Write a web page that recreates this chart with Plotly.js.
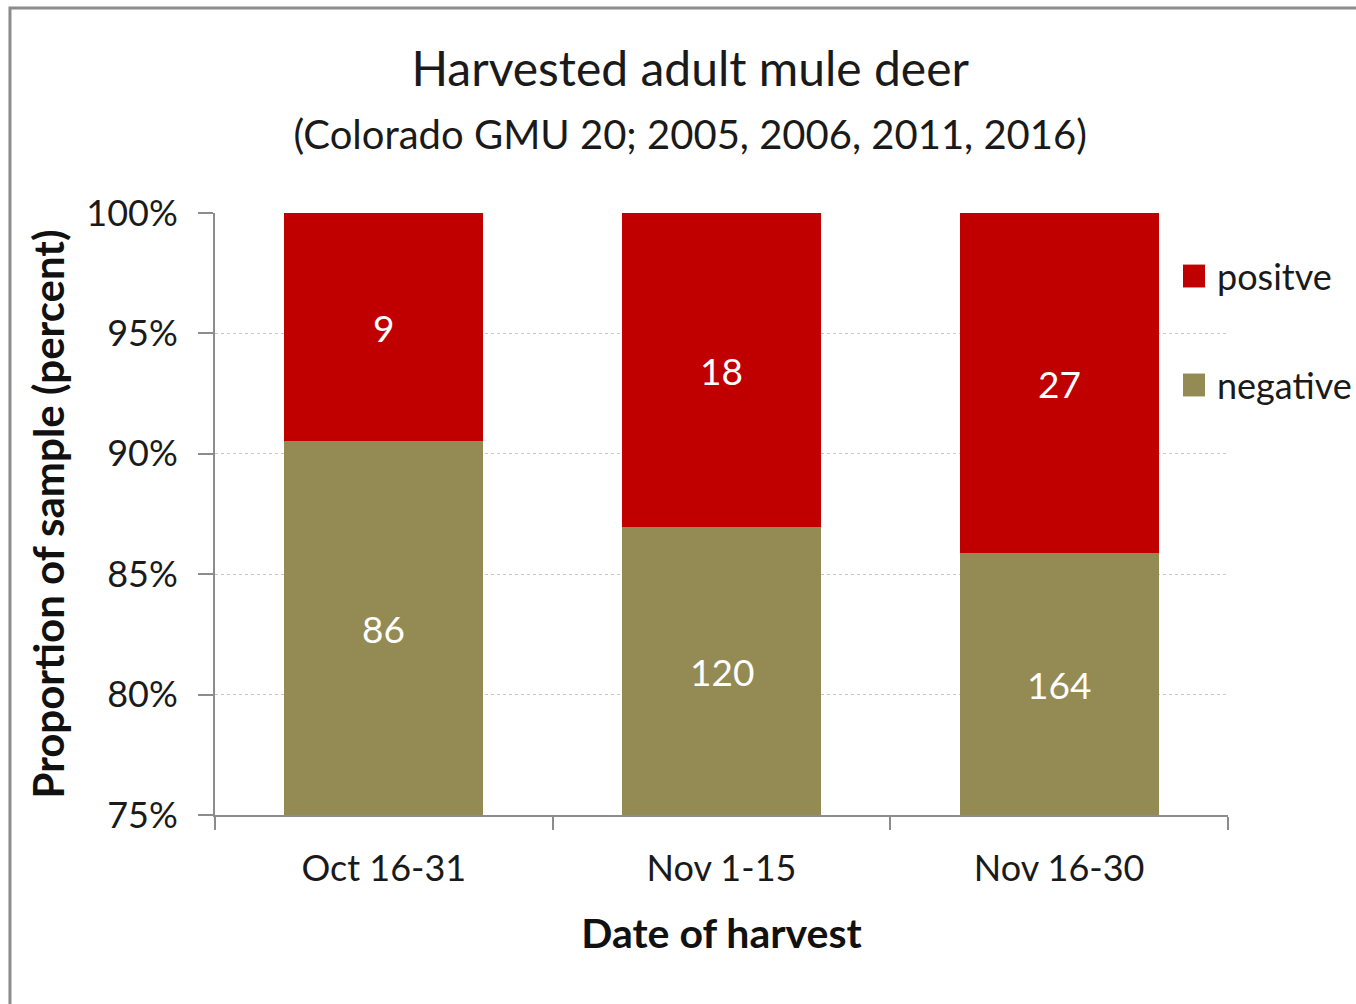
<!DOCTYPE html>
<html>
<head>
<meta charset="utf-8">
<script src="https://cdn.plot.ly/plotly-3.0.1.min.js"></script>
<style>
  html, body { margin: 0; padding: 0; background: #ffffff; }
  #chart { width: 1356px; height: 1004px; }
</style>
</head>
<body>
<div id="chart"></div>
<script>
// Harvest periods and sample counts by test result
const periods = ['Oct 16-31', 'Nov 1-15', 'Nov 16-30'];
const negativeCounts = [86, 120, 164];
const positiveCounts = [9, 18, 27];
const seriesNames = ['positve', 'negative'];
const seriesColors = ['#C00000', '#948A54'];
const yTickVals = [75, 80, 85, 90, 95, 100];
const yTickText = ['75%', '80%', '85%', '90%', '95%', '100%'];

const FONT = 'Lato, "Open Sans", sans-serif';
const Y_MIN = 75, Y_MAX = 100;

// Share of each period's sample, in percent
const totals = periods.map((_, i) => negativeCounts[i] + positiveCounts[i]);
const negativePct = negativeCounts.map((v, i) => 100 * v / totals[i]);
const positivePct = positiveCounts.map((v, i) => 100 * v / totals[i]);

const traces = [
  {
    type: 'bar', name: seriesNames[1], x: periods, y: negativePct,
    marker: { color: seriesColors[1] }, showlegend: false, hoverinfo: 'x+y'
  },
  {
    type: 'bar', name: seriesNames[0], x: periods, y: positivePct,
    marker: { color: seriesColors[0] }, showlegend: false, hoverinfo: 'x+y'
  }
];

// Count labels centred in the visible part of each segment
const annotations = [];
periods.forEach((p, i) => {
  annotations.push({
    x: p, y: (Y_MIN + negativePct[i]) / 2, xref: 'x', yref: 'y',
    text: String(negativeCounts[i]), showarrow: false,
    font: { family: FONT, size: 37, color: '#ffffff' }
  });
  annotations.push({
    x: p, y: negativePct[i] + positivePct[i] / 2, xref: 'x', yref: 'y',
    text: String(positiveCounts[i]), showarrow: false,
    font: { family: FONT, size: 37, color: '#ffffff' }
  });
});

// Legend: square swatch plus label for each series
const legendRows = [0.8953, 0.7143];
const shapes = [];
seriesNames.forEach((name, k) => {
  shapes.push({
    type: 'rect', xref: 'paper', yref: 'paper',
    x0: 0.9556, x1: 0.9773, y0: legendRows[k] - 0.019, y1: legendRows[k] + 0.019,
    fillcolor: seriesColors[k], line: { width: 0 }
  });
  annotations.push({
    x: 0.9872, y: legendRows[k], xref: 'paper', yref: 'paper',
    xanchor: 'left', yanchor: 'middle', text: name, showarrow: false,
    font: { family: FONT, size: 36, color: '#1a1a1a' }
  });
});

// Outer frame of the chart area
shapes.push({
  type: 'rect', xref: 'paper', yref: 'paper',
  x0: -0.2024, x1: 1.2, y0: -0.5, y1: 1.3405,
  line: { color: '#8c8c8c', width: 3 }, fillcolor: 'rgba(0,0,0,0)', layer: 'below'
});

const layout = {
  width: 1356, height: 1004,
  margin: { l: 215, r: 128, t: 213, b: 189, autoexpand: false },
  paper_bgcolor: '#ffffff', plot_bgcolor: '#ffffff',
  font: { family: FONT, color: '#1a1a1a' },
  barmode: 'stack', bargap: 0.41,
  title: {
    text: 'Harvested adult mule deer<br><span style="font-size:40px">(Colorado GMU 20; 2005, 2006, 2011, 2016)</span>',
    font: { family: FONT, size: 48, color: '#1a1a1a' },
    x: 0.509, xref: 'container', xanchor: 'center',
    y: 0.914, yref: 'container', yanchor: 'middle'
  },
  xaxis: {
    type: 'category', tickson: 'boundaries', ticks: 'outside', ticklen: 13,
    tickwidth: 2, tickcolor: '#8c8c8c', showline: true, linecolor: '#8c8c8c', linewidth: 2,
    showgrid: false, ticklabelstandoff: 21, automargin: true,
    tickfont: { family: FONT, size: 36, color: '#1a1a1a' },
    title: { text: '<b>Date of harvest</b>', standoff: 31, font: { family: FONT, size: 41, color: '#111' } }
  },
  yaxis: {
    range: [Y_MIN, Y_MAX], tickvals: yTickVals, ticktext: yTickText,
    ticks: 'outside', ticklen: 15, tickwidth: 2, tickcolor: '#8c8c8c',
    showline: true, linecolor: '#8c8c8c', linewidth: 2, zeroline: false,
    showgrid: true, gridcolor: '#c8c8c8', griddash: 'dot', gridwidth: 1,
    ticklabelstandoff: 13, automargin: true,
    tickfont: { family: FONT, size: 36, color: '#1a1a1a' },
    title: { text: '<b>Proportion of sample (percent)</b>', standoff: 9, font: { family: FONT, size: 42, color: '#111' } }
  },
  shapes: shapes,
  annotations: annotations,
  showlegend: false
};

Plotly.newPlot('chart', traces, layout, { displayModeBar: false, responsive: false });
</script>
</body>
</html>
